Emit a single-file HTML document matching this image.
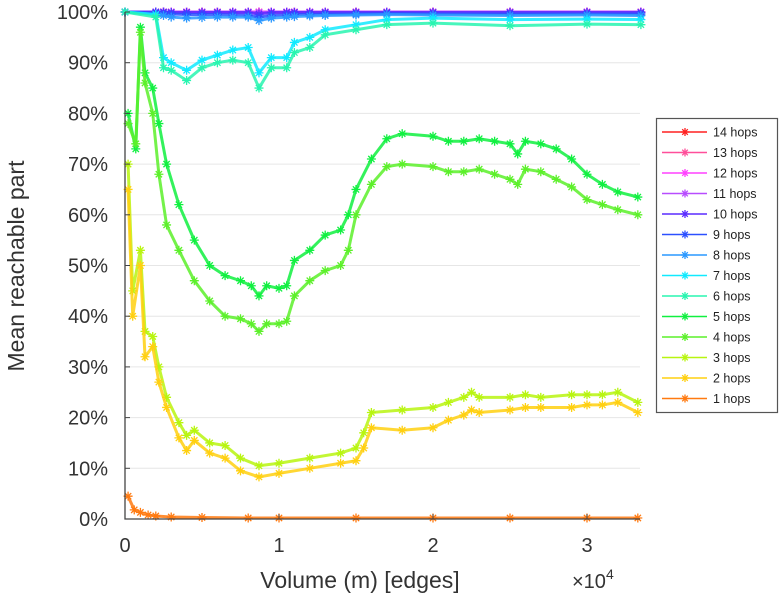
<!DOCTYPE html>
<html><head><meta charset="utf-8"><style>
body{margin:0;background:#fff;width:781px;height:600px;overflow:hidden;font-family:"Liberation Sans",sans-serif}
svg{display:block}
</style></head><body>
<svg id="chart" width="781" height="600" xmlns="http://www.w3.org/2000/svg">
<g id="grid"></g>
<g id="series"></g>
<g id="axes"></g>
<text transform="translate(24,266) rotate(-90)" text-anchor="middle" font-size="23" fill="#333">Mean reachable part</text>
<text x="360" y="588" text-anchor="middle" font-size="23" fill="#333">Volume (m) [edges]</text>
<text x="572" y="588" font-size="20" fill="#333">×10<tspan dy="-9" font-size="14">4</tspan></text>
<g id="legend"></g>
</svg>
<script>
const xTicks=[0,1,2,3];
const yTicks=[0,10,20,30,40,50,60,70,80,90,100];
const seriesNames=["14 hops","13 hops","12 hops","11 hops","10 hops","9 hops","8 hops","7 hops","6 hops","5 hops","4 hops","3 hops","2 hops","1 hops"];
const seriesColors=["#ff2020","#ff4f9a","#ff40ff","#b84cff","#5a2cff","#2c50ff","#2a98ff","#10eaff","#28f5b0","#10f040","#5cf02a","#b8f510","#ffd010","#ff7a10"];
const xs7=[0,0.2,0.25,0.3,0.4,0.5,0.6,0.7,0.8,0.87,0.95,1.05,1.1,1.2,1.3,1.5,1.7,2.0,2.5,3.0,3.35];
const v14=[100,100,100,100,100,100,100,100,100,100,100,100,100,100,100,100,100,100,100,100,100];
const v13=[100,100,100,100,100,100,100,100,100,100,100,100,100,100,100,100,100,100,100,100,100];
const v12=[100,100,100,100,100,100,100,100,100,100,100,100,100,100,100,100,100,100,100,100,100];
const v11=[100,100,100,100,100,100,100,100,100,99.9,100,100,100,100,100,100,100,100,100,100,100];
const v10=[100,100,100,99.9,99.9,99.9,99.9,99.9,99.9,99.6,99.9,99.9,99.9,99.9,99.9,99.9,99.9,99.9,99.9,99.9,99.9];
const v9=[100,99.8,99.7,99.6,99.5,99.5,99.5,99.4,99.3,99,99.3,99.4,99.5,99.5,99.6,99.6,99.7,99.6,99.6,99.6,99.6];
const v8=[100,99.5,99.3,99,98.8,98.9,99,99,99,98.3,98.8,99,99.1,99.2,99.3,99.4,99.5,99.4,99.3,99.4,99.3];
const v7=[100,99.5,91,90,88.5,90.5,91.5,92.5,93,88,91,91,94,95,96.5,97.5,98.5,98.8,98.5,98.6,98.5];
const v6=[100,99,89,88.5,86.5,89,90,90.5,90,85,89,89,92,93,95.5,96.5,97.5,97.8,97.3,97.6,97.5];
const xsMid=[0.02,0.07,0.1,0.13,0.18,0.22,0.27,0.35,0.45,0.55,0.65,0.75,0.82,0.87,0.92,1.0,1.05,1.1,1.2,1.3,1.4,1.45,1.5,1.6,1.7,1.8,2.0,2.1,2.2,2.3,2.4,2.5,2.55,2.6,2.7,2.8,2.9,3.0,3.1,3.2,3.33];
const v5=[80,73,97,88,85,78,70,62,55,50,48,47,46,44,46,45.5,46,51,53,56,57,60,65,71,75,76,75.5,74.5,74.5,75,74.5,74,72,74.5,74,73,71,68,66,64.5,63.5];
const v4=[78,74,96,86,80,68,58,53,47,43,40,39.5,38.5,37,38.5,38.5,39,44,47,49,50,53,60,66,69.5,70,69.5,68.5,68.5,69,68,67,66,69,68.5,67,65.5,63,62,61,60];
const xsLow=[0.02,0.05,0.1,0.13,0.18,0.22,0.27,0.35,0.4,0.45,0.55,0.65,0.75,0.87,1.0,1.2,1.4,1.5,1.55,1.6,1.8,2.0,2.1,2.2,2.25,2.3,2.5,2.6,2.7,2.9,3.0,3.1,3.2,3.33];
const v3=[70,45,53,37,36,30,24,19,16.5,17.5,15,14.5,12,10.5,11,12,13,14,17,21,21.5,22,23,24,25,24,24,24.5,24,24.5,24.5,24.5,25,23];
const v2=[65,40,50,32,34,27,22,16,13.5,15.5,13,12,9.5,8.3,9,10,11,11.5,14,18,17.5,18,19.5,20.5,21.5,21,21.5,22,22,22,22.5,22.5,23,21];
const xs1=[0.02,0.06,0.1,0.15,0.2,0.3,0.5,0.8,1.0,1.5,2.0,2.5,3.0,3.33];
const v1=[4.5,1.8,1.3,0.8,0.6,0.4,0.3,0.2,0.2,0.2,0.2,0.2,0.2,0.2];
const seriesX=[xs7,xs7,xs7,xs7,xs7,xs7,xs7,xs7,xs7,xsMid,xsMid,xsLow,xsLow,xs1];
const seriesY=[v14,v13,v12,v11,v10,v9,v8,v7,v6,v5,v4,v3,v2,v1];

const NS="http://www.w3.org/2000/svg";
const X0=125,X1=640,Y0=519,Y1=12;
const sx=v=>X0+v*154;
const sy=v=>Y0-(v/100)*(Y0-Y1);
function mk(t,a,p){const e=document.createElementNS(NS,t);for(const k in a)e.setAttribute(k,a[k]);p.appendChild(e);return e;}
const grid=document.getElementById('grid'),axes=document.getElementById('axes'),ser=document.getElementById('series'),leg=document.getElementById('legend');
yTicks.forEach(t=>{
  const y=sy(t);
  if(t>0){const g=mk('line',{x1:X0,x2:X1,y1:y,y2:y,stroke:'#e6e6e6','stroke-width':1},grid);
  
  }
  const tk=mk('line',{x1:X0,x2:X0+5,y1:y,y2:y,stroke:'#444'},axes);
  
  
  const l=mk('text',{x:108,y:y+7,'text-anchor':'end','font-size':20,fill:'#333'},axes);l.textContent=t+'%';
  
  
});
xTicks.forEach(t=>{
  const x=sx(t);
  const tk=mk('line',{x1:x,x2:x,y1:Y0,y2:Y0-5,stroke:'#444'},axes);
  
  
  const l=mk('text',{x:x,y:552,'text-anchor':'middle','font-size':20,fill:'#333'},axes);l.textContent=t;
  
  
});
const ax=mk('path',{d:`M${X0},${Y1} V${Y0} H${X1}`,fill:'none',stroke:'#444','stroke-width':1.3},axes);


function star(g,x,y,c,r){
  mk('path',{d:`M${x-r},${y}H${x+r}M${x},${y-r}V${y+r}M${x-r*.7},${y-r*.7}L${x+r*.7},${y+r*.7}M${x-r*.7},${y+r*.7}L${x+r*.7},${y-r*.7}`,stroke:c,'stroke-width':1.3,fill:'none'},g);
}
for(let i=0;i<seriesY.length;i++){
  const g=mk('g',{},ser);
  
  
  const xsA=seriesX[i],ys=seriesY[i],c=seriesColors[i];
  const pts=xsA.map((x,j)=>sx(x)+','+sy(ys[j])).join(' ');
  mk('polyline',{points:pts,fill:'none',stroke:c,'stroke-width':3,'stroke-opacity':0.85},g);
  xsA.forEach((x,j)=>star(g,sx(x),sy(ys[j]),c,4.5));
}
const box=mk('rect',{x:656.5,y:118.5,width:121,height:294,fill:'#fff',stroke:'#555','stroke-width':1.2},leg);


seriesNames.forEach((n,i)=>{
  const y=132+i*20.5,c=seriesColors[i];
  const g=mk('g',{},leg);
  
  
  mk('line',{x1:662,x2:707,y1:y,y2:y,stroke:c,'stroke-width':1.5},g);
  star(g,685,y,c,4);
  const t=mk('text',{x:713,y:y+4.5,'font-size':12.5,fill:'#222'},g);t.textContent=n;
});
</script>
</body></html>
